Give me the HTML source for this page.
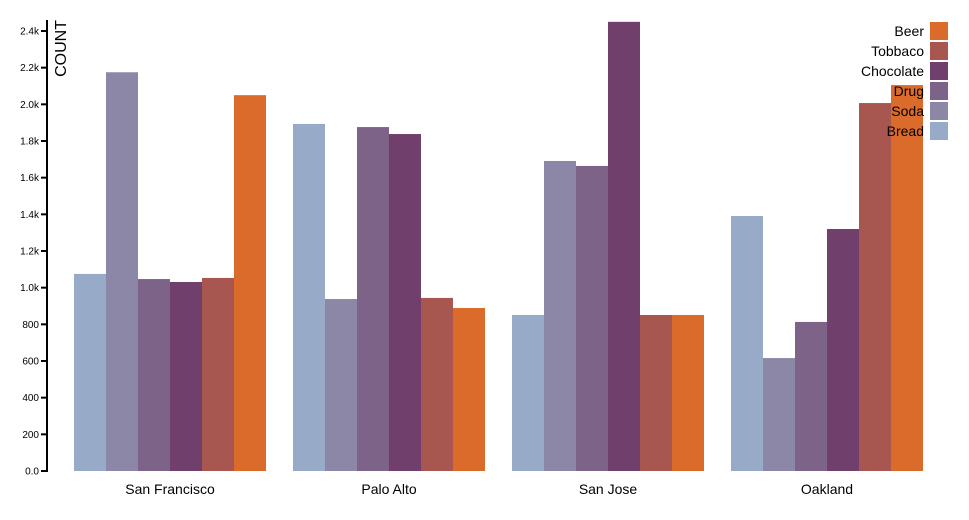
<!DOCTYPE html>
<html><head><meta charset="utf-8"><style>
body{margin:0;background:#fff;}
svg{display:block;font-family:"Liberation Sans",Arial,sans-serif;}
</style></head><body>
<svg id="chart" width="969" height="520" viewBox="0 0 969 520"></svg>
<script>
const cities = ["San Francisco","Palo Alto","San Jose","Oakland"];
const series = ["Bread","Soda","Drug","Chocolate","Tobbaco","Beer"];
const colors = ["#97aac7","#8c87a6","#7e6388","#713f6c","#a85750","#db6b2b"];
const bread = [1075,1893,851,1391];
const soda = [2175,938,1691,616];
const drug = [1047,1876,1664,813];
const chocolate = [1031,1838,2450,1320];
const tobbaco = [1053,944,851,2007];
const beer = [2050,889,851,2105];
const yTicks = [0,200,400,600,800,1000,1200,1400,1600,1800,2000,2200,2400];
const yTickLabels = ["0.0","200","400","600","800","1.0k","1.2k","1.4k","1.6k","1.8k","2.0k","2.2k","2.4k"];

const values = [bread,soda,drug,chocolate,tobbaco,beer];
const svg = document.getElementById('chart');
const NS = 'http://www.w3.org/2000/svg';
const y0 = 471, kY = 440/2400;
const y = v => y0 - v*kY;
const gx = i => 74 + i*219, bw = 32;
function mk(tag, attrs){const e=document.createElementNS(NS,tag);for(const k in attrs)e.setAttribute(k,attrs[k]);svg.appendChild(e);return e;}

cities.forEach((c,i)=>{
  series.forEach((s,j)=>{
    const v = values[j][i];
    const r = mk('rect',{x:gx(i)+j*bw,y:y(v),width:bw,height:y0-y(v),fill:colors[j]});
    
    
  });
  const t = mk('text',{x:gx(i)+96,y:494,'text-anchor':'middle','font-size':14,fill:'#000'});
  t.textContent = c;
  
  
});

const ax = mk('line',{x1:47,y1:20,x2:47,y2:472,stroke:'#000','stroke-width':2});


yTicks.forEach((v,i)=>{
  const tk = mk('line',{x1:41,y1:y(v),x2:47,y2:y(v),stroke:'#000','stroke-width':2});
  
  
  const tl = mk('text',{x:39,y:y(v)+3.5,'text-anchor':'end','font-size':10,fill:'#000'});
  tl.textContent = yTickLabels[i];
  
  
});
const yt = mk('text',{x:0,y:0,transform:'translate(66,20) rotate(-90)','text-anchor':'end','font-size':16,fill:'#000'});
yt.textContent = 'COUNT';



const legendOrder = [5,4,3,2,1,0];
legendOrder.forEach((j,k)=>{
  const r = mk('rect',{x:930,y:22+k*20,width:18,height:18,fill:colors[j]});
  
  
  const t = mk('text',{x:924,y:36+k*20,'text-anchor':'end','font-size':14,fill:'#000'});
  t.textContent = series[j];
  
  
});
</script>
</body></html>
